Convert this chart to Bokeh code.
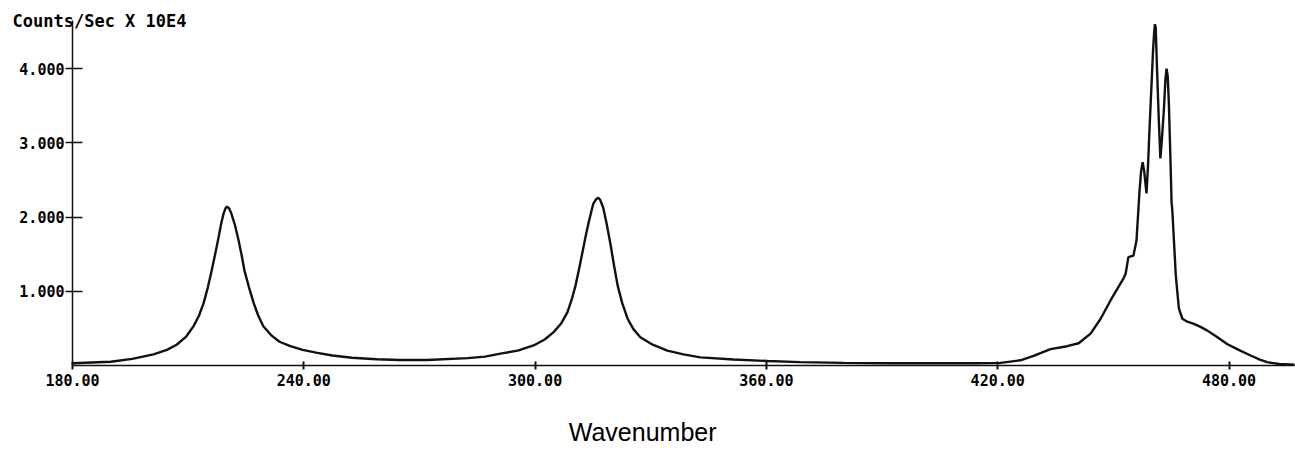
from bokeh.plotting import figure
from bokeh.models import Range1d, FixedTicker, Label
from bokeh.embed import file_html
from bokeh.resources import INLINE

# Spectrum (wavenumber vs counts/sec x 10E4)
x_wn = [
    180.0, 189.9, 195.5, 201.0, 204.5, 207.0, 209.5, 211.4, 212.8, 214.0, 215.1, 216.1,
    217.0, 217.9, 218.6, 219.2, 219.7, 220.1, 220.6, 221.2, 222.2, 223.1, 223.9, 224.6,
    225.8, 227.0, 228.2, 229.5, 231.5, 233.7, 236.5, 239.7, 243.5, 247.4, 252.5, 258.9,
    264.8, 272.0, 282.5, 287.0, 291.0, 295.5, 299.6, 302.5, 304.8, 306.8, 308.4, 309.5,
    310.5, 311.4, 312.3, 313.1, 313.9, 314.6, 315.1, 315.8, 316.4, 316.9, 317.7, 318.6,
    319.6, 320.5, 321.4, 322.6, 324.0, 325.5, 327.3, 330.5, 334.3, 338.5, 342.9, 351.5,
    360.3, 368.8, 380.0, 392.0, 405.0, 415.0, 420.7, 425.9, 429.3, 433.7, 438.0, 441.0,
    444.1, 446.7, 449.3, 451.1, 452.6, 453.2, 453.9, 455.2, 456.0, 456.8, 457.2, 457.6,
    458.0, 458.6, 459.0, 459.4, 460.0, 460.3, 460.6, 460.8, 461.0, 461.2, 461.4, 461.8,
    462.2, 462.6, 463.1, 463.5, 463.8, 464.1, 464.4, 464.8, 465.1, 465.3, 465.7, 466.2,
    467.0, 467.9, 469.2, 470.9, 472.6, 474.4, 477.0, 479.5, 482.5, 485.6, 488.0, 489.9,
    493.0, 497.0,
]
y_counts = [
    0.03, 0.05, 0.09, 0.15, 0.21, 0.28, 0.39, 0.53, 0.67, 0.84, 1.05, 1.28,
    1.50, 1.73, 1.92, 2.05, 2.12, 2.14, 2.12, 2.05, 1.88, 1.68, 1.48, 1.28,
    1.05, 0.84, 0.67, 0.53, 0.41, 0.32, 0.26, 0.21, 0.17, 0.135, 0.105, 0.085,
    0.075, 0.075, 0.10, 0.12, 0.16, 0.20, 0.27, 0.35, 0.45, 0.57, 0.72, 0.89,
    1.08, 1.30, 1.53, 1.74, 1.93, 2.08, 2.18, 2.24, 2.26, 2.23, 2.12, 1.90,
    1.62, 1.34, 1.08, 0.84, 0.63, 0.49, 0.38, 0.28, 0.20, 0.15, 0.11, 0.08,
    0.06, 0.045, 0.035, 0.03, 0.03, 0.03, 0.035, 0.07, 0.13, 0.22, 0.26, 0.30,
    0.43, 0.63, 0.88, 1.04, 1.17, 1.24, 1.46, 1.48, 1.68, 2.36, 2.62, 2.74,
    2.62, 2.32, 2.70, 3.21, 3.90, 4.25, 4.50, 4.60, 4.55, 4.20, 3.89, 3.30,
    2.79, 3.05, 3.44, 3.85, 4.00, 3.90, 3.53, 2.80, 2.20, 2.09, 1.70, 1.21,
    0.77, 0.63, 0.59, 0.56, 0.52, 0.47, 0.38, 0.29, 0.21, 0.135, 0.08, 0.045,
    0.02, 0.01,
]

x_ticks = [180, 240, 300, 360, 420, 480]
x_tick_labels = ["180.00", "240.00", "300.00", "360.00", "420.00", "480.00"]
y_ticks = [1, 2, 3, 4]
y_tick_labels = ["1.000", "2.000", "3.000", "4.000"]
y_title = "Counts/Sec X 10E4"
x_title = "Wavenumber"

# The frame fills the whole canvas; the axes sit inside it at x=180 and y=0.
p = figure(
    width=1295, height=451,
    output_backend="svg", toolbar_location=None,
    x_range=Range1d(161.32, 497.25), y_range=Range1d(-1.159, 4.919),
    min_border=0, min_border_left=0, min_border_right=0,
    min_border_top=0, min_border_bottom=0,
    background_fill_color="white", border_fill_color="white",
)
p.outline_line_color = None
p.grid.visible = False

p.line(x_wn, y_counts, line_color="#111111", line_width=2.4)

tick_font = "DejaVu Sans Mono"

p.xaxis.fixed_location = 0
p.xaxis.bounds = (180, 497)
p.xaxis.ticker = FixedTicker(ticks=x_ticks)
p.xaxis.major_label_overrides = {t: l for t, l in zip(x_ticks, x_tick_labels)}
p.xaxis.minor_tick_line_color = None
p.xaxis.major_tick_in = 4
p.xaxis.major_tick_out = 4
p.xaxis.major_label_standoff = 5
p.xaxis.axis_line_width = 1.5
p.xaxis.major_tick_line_width = 2

p.yaxis.fixed_location = 180
p.yaxis.bounds = (0, 4.65)
p.yaxis.ticker = FixedTicker(ticks=y_ticks)
p.yaxis.major_label_overrides = {t: l for t, l in zip(y_ticks, y_tick_labels)}
p.yaxis.minor_tick_line_color = None
p.yaxis.major_tick_in = 10
p.yaxis.major_tick_out = 7
p.yaxis.major_label_standoff = 1
p.yaxis.axis_line_width = 1.5
p.yaxis.major_tick_line_width = 1.5

for ax in (p.xaxis, p.yaxis):
    ax.axis_line_color = "#111111"
    ax.major_tick_line_color = "#111111"
    ax.major_label_text_font = tick_font
    ax.major_label_text_font_style = "bold"
    ax.major_label_text_font_size = "15px"
    ax.major_label_text_color = "#000000"

p.add_layout(Label(x=164.44, y=4.636, x_units="data", y_units="data", text=y_title,
                   text_font=tick_font, text_font_style="bold", text_font_size="17px",
                   text_align="left", text_baseline="alphabetic", text_color="#000000"))
p.add_layout(Label(x=327.9, y=-0.90, x_units="data", y_units="data", text=x_title,
                   text_font="Liberation Sans", text_font_size="25px",
                   text_align="center", text_baseline="alphabetic", text_color="#000000"))

open("out.html", "w").write(file_html(p, INLINE))
